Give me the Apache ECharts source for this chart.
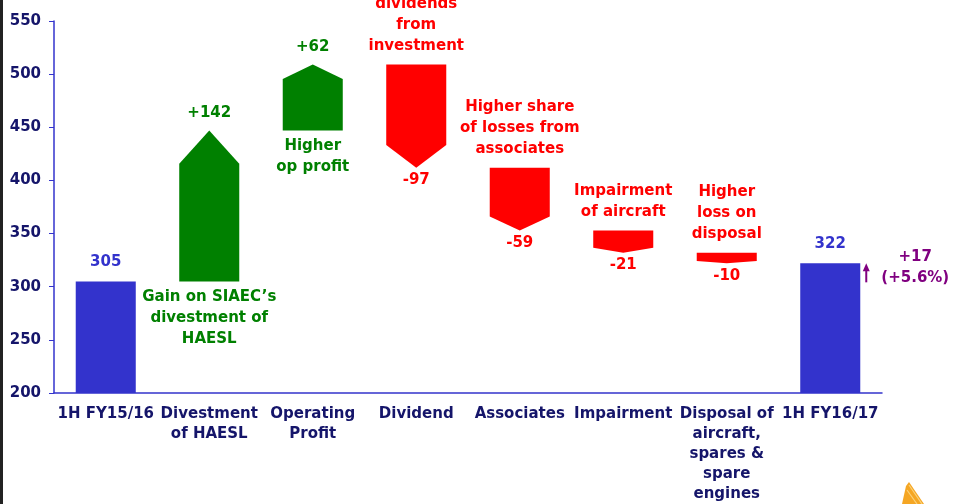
<!DOCTYPE html>
<html>
<head>
<meta charset="utf-8">
<script src="https://cdn.jsdelivr.net/npm/echarts@6/dist/echarts.min.js"></script>
<style>
  html, body { margin: 0; padding: 0; background: #fff; }
  #chart { width: 954px; height: 504px; }
</style>
</head>
<body>
<div id="chart"></div>
<script>
  // categories and step values of the waterfall
  const categories = ['1H FY15/16', 'Divestment\nof HAESL', 'Operating\nProfit', 'Dividend', 'Associates',
    'Impairment', 'Disposal of\naircraft,\nspares &\nspare\nengines', '1H FY16/17'];
  const changes = [305, 142, 62, -97, -59, -21, -10, 322];
  const isTotal = [true, false, false, false, false, false, false, true];
  const valueLabels = ['305', '+142', '+62', '-97', '-59', '-21', '-10', '322'];
  const notes = ['', 'Gain on SIAEC\u2019s\ndivestment of\nHAESL', 'Higher\nop profit', 'dividends\nfrom\ninvestment',
    'Higher share\nof losses from\nassociates', 'Impairment\nof aircraft', 'Higher\nloss on\ndisposal', ''];
  const finalNote = '+17\n(+5.6%)';

  const BLUE = '#3333cc', GREEN = '#008000', RED = '#ff0000', PURPLE = '#800080', NAVY = '#15156a';
  const FAMILY = '"DejaVu Sans", Verdana, sans-serif';
  const FONT = 'bold 15px ' + FAMILY;

  // build [index, start, end] for every step
  const rows = [];
  let running = 0;
  changes.forEach((c, i) => {
    if (isTotal[i]) {
      rows.push([i, 200, c]);
      running = c;
    } else {
      rows.push([i, running, running + c]);
      running += c;
    }
  });

  const chart = echarts.init(document.getElementById('chart'));

  chart.setOption({
    animation: false,
    grid: { left: 54, right: 72, top: 21, bottom: 107 },
    graphic: [
      { type: 'rect', left: 0, top: 0, shape: { width: 3, height: 504 }, style: { fill: '#222' } },
      // small logo corner
      { type: 'polygon', shape: { points: [[902, 504], [906, 486], [909, 482], [924, 504]] }, style: { fill: '#f5a623' } },
      { type: 'line', shape: { x1: 907, y1: 490, x2: 917, y2: 504 }, style: { stroke: '#fbd27a', lineWidth: 1.2 } },
      { type: 'line', shape: { x1: 909, y1: 485, x2: 922, y2: 504 }, style: { stroke: '#fbd27a', lineWidth: 1.2 } }
    ],
    xAxis: {
      type: 'category',
      data: categories,
      axisLine: { lineStyle: { color: BLUE, width: 1.5 } },
      axisTick: { length: 5, lineStyle: { color: BLUE } },
      axisLabel: { color: NAVY, fontWeight: 'bold', fontSize: 15, fontFamily: FAMILY, lineHeight: 20, margin: 11, interval: 0 }
    },
    yAxis: {
      type: 'value',
      min: 200,
      max: 550,
      interval: 50,
      splitLine: { show: false },
      axisLine: { show: true, lineStyle: { color: BLUE, width: 1.5 } },
      axisTick: { show: true, length: 5, lineStyle: { color: BLUE } },
      axisLabel: { color: NAVY, fontWeight: 'bold', fontSize: 15, fontFamily: FAMILY, margin: 13 }
    },
    series: [{
      type: 'custom',
      data: rows,
      encode: { x: 0, y: [1, 2] },
      renderItem: (params, api) => {
        const i = api.value(0);
        const start = api.value(1);
        const end = api.value(2);
        const w = api.size([1, 0])[0] * 0.58;
        const cx = api.coord([i, start])[0];
        const x0 = cx - w / 2, x1 = cx + w / 2;
        const yStart = api.coord([i, start])[1];
        const yEnd = api.coord([i, end])[1];
        const children = [];

        if (isTotal[i]) {
          children.push({ type: 'rect', shape: { x: x0, y: yEnd, width: w, height: yStart - yEnd }, style: { fill: BLUE } });
          children.push({ type: 'text', style: { text: valueLabels[i], x: cx, y: yEnd - 12, align: 'center', verticalAlign: 'bottom', fill: BLUE, font: FONT } });
          if (i === categories.length - 1) {
            const ax = x1 + 6;
            children.push({ type: 'line', shape: { x1: ax, y1: yEnd + 19, x2: ax, y2: yEnd + 5 }, style: { stroke: PURPLE, lineWidth: 2 } });
            children.push({ type: 'polygon', shape: { points: [[ax - 3.5, yEnd + 8], [ax + 3.5, yEnd + 8], [ax, yEnd]] }, style: { fill: PURPLE } });
            children.push({ type: 'text', style: { text: finalNote, x: ax + 49, y: yEnd - 17, align: 'center', verticalAlign: 'top', fill: PURPLE, font: FONT, lineHeight: 21 } });
          }
        } else {
          const up = end > start;
          const color = up ? GREEN : RED;
          const head = Math.abs(end - start) * 0.22;
          const yShoulder = api.coord([i, up ? end - head : end + head])[1];
          children.push({
            type: 'polygon',
            shape: { points: [[x0, yStart], [x1, yStart], [x1, yShoulder], [cx, yEnd], [x0, yShoulder]] },
            style: { fill: color }
          });
          if (up) {
            children.push({ type: 'text', style: { text: valueLabels[i], x: cx, y: yEnd - 10, align: 'center', verticalAlign: 'bottom', fill: color, font: FONT } });
            children.push({ type: 'text', style: { text: notes[i], x: cx, y: yStart + 5, align: 'center', verticalAlign: 'top', fill: color, font: FONT, lineHeight: 21 } });
          } else {
            children.push({ type: 'text', style: { text: valueLabels[i], x: cx, y: yEnd + 5, align: 'center', verticalAlign: 'top', fill: color, font: FONT } });
            children.push({ type: 'text', style: { text: notes[i], x: cx, y: yStart - 8, align: 'center', verticalAlign: 'bottom', fill: color, font: FONT, lineHeight: 21 } });
          }
        }
        return { type: 'group', children: children };
      }
    }]
  });
</script>
</body>
</html>
